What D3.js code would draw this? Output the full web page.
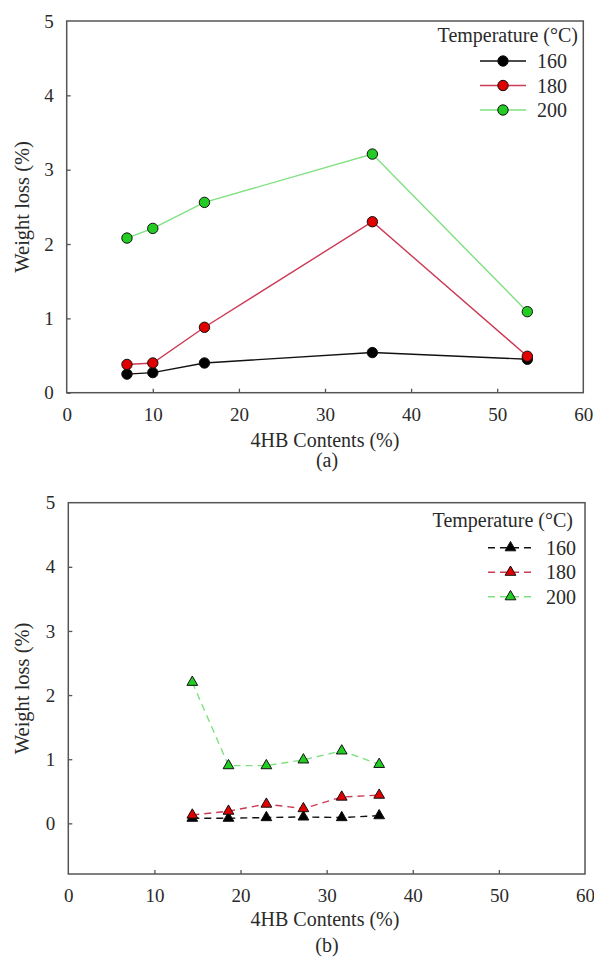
<!DOCTYPE html>
<html><head><meta charset="utf-8">
<script src="https://cdn.jsdelivr.net/npm/d3@7"></script>
<style>
html,body{margin:0;padding:0;background:#fff;}
</style></head>
<body><svg id="c" width="594" height="967"></svg>
<script>
// Panel (a)
const tempsA = ["160", "180", "200"];
const xA = [7, 10, 16, 35.5, 53.5];
const a160 = [0.25, 0.27, 0.40, 0.54, 0.45];
const a180 = [0.38, 0.40, 0.88, 2.30, 0.49];
const a200 = [2.08, 2.21, 2.56, 3.21, 1.09];
// Panel (b)
const xB = [14.4, 18.6, 23.0, 27.3, 31.75, 36.1];
const b160 = [0.08, 0.08, 0.09, 0.10, 0.09, 0.12];
const b180 = [0.13, 0.19, 0.30, 0.23, 0.41, 0.44];
const b200 = [2.20, 0.90, 0.90, 0.99, 1.13, 0.92];
const xTicks = [0, 10, 20, 30, 40, 50, 60];
const yTicks = [0, 1, 2, 3, 4, 5];

const lineCol = ["#111111", "#cc3a55", "#7fe07f"];
const fillCol = ["#000000", "#e00000", "#22cc22"];
const FONT = "'Liberation Serif', 'Times New Roman', Times, 'DejaVu Serif', serif";

const svg = d3.select("#c");

function panel(cfg) {
  const g = svg.append("g");
  const x = d3.scaleLinear().domain([0, 60]).range([cfg.left, cfg.right]);
  const y = d3.scaleLinear().domain(cfg.yDom).range([cfg.bottom, cfg.top]);

  g.append("rect").attr("x", cfg.left).attr("y", cfg.top)
    .attr("width", cfg.right - cfg.left).attr("height", cfg.bottom - cfg.top)
    .attr("fill", "none").attr("stroke", "#555").attr("stroke-width", 1.5);

  const xa = g.append("g").attr("transform", `translate(0,${cfg.bottom})`)
    .call(d3.axisBottom(x).tickValues(xTicks).tickFormat(d3.format("d")).tickSizeInner(-4).tickSizeOuter(0).tickPadding(15));
  const ya = g.append("g").attr("transform", `translate(${cfg.left},0)`)
    .call(d3.axisLeft(y).tickValues(yTicks).tickFormat(d3.format("d")).tickSizeInner(-4).tickSizeOuter(0).tickPadding(13));
  [xa, ya].forEach(a => {
    a.attr("font-family", null).attr("font-size", null);
    a.select(".domain").remove();
    a.selectAll(".tick line").attr("stroke", "#555").attr("stroke-width", 1.3);
    a.selectAll(".tick text").style("font-size", "19px");
  });
  xa.selectAll(".tick line").filter(d => d === 0 || d === 60).remove();
  ya.selectAll(".tick line").filter(d => d === 5).remove();

  g.append("text").attr("x", 325).attr("y", cfg.bottom + cfg.titleOff)
    .attr("text-anchor", "middle").style("font-size", "20px").text("4HB Contents (%)");
  g.append("text").attr("transform", `translate(29,${(cfg.top + cfg.bottom) / 2}) rotate(-90)`)
    .attr("text-anchor", "middle").style("font-size", "20.5px").text("Weight loss (%)");
  g.append("text").attr("x", 327).attr("y", cfg.capY)
    .attr("text-anchor", "middle").style("font-size", "20px").text(cfg.cap);

  const line = d3.line().x(d => x(d[0])).y(d => y(d[1]));
  const sym = cfg.tri ? d3.symbol().type(d3.symbolTriangle).size(50) : d3.symbol().type(d3.symbolCircle).size(85);

  cfg.series.forEach((s, i) => {
    const pts = cfg.xs.map((v, j) => [v, s[j]]);
    g.append("path").datum(pts).attr("d", line).attr("fill", "none")
      .attr("stroke", lineCol[i]).attr("stroke-width", 1.4)
      .attr("stroke-dasharray", cfg.tri ? "7,5" : null);
    g.selectAll(null).data(pts).enter().append("path")
      .attr("d", sym).attr("transform", d => `translate(${x(d[0])},${y(d[1])})`)
      .attr("fill", fillCol[i]).attr("stroke", "#111").attr("stroke-width", 1);
  });

  g.append("text").attr("x", cfg.legX).attr("y", cfg.legY)
    .attr("text-anchor", "end").style("font-size", "20px").text("Temperature (°C)");
  tempsA.forEach((t, i) => {
    const yy = cfg.legY + cfg.legOff + i * cfg.legStep;
    g.append("line").attr("x1", cfg.legL1).attr("x2", cfg.legL2).attr("y1", yy).attr("y2", yy)
      .attr("stroke", lineCol[i]).attr("stroke-width", 1.4)
      .attr("stroke-dasharray", cfg.tri ? "7,5" : null);
    g.append("path").attr("d", sym).attr("transform", `translate(${(cfg.legL1 + cfg.legL2) / 2},${yy})`)
      .attr("fill", fillCol[i]).attr("stroke", "#111").attr("stroke-width", 1);
    g.append("text").attr("x", cfg.legL2 + cfg.legGap).attr("y", yy).attr("dy", "0.35em")
      .style("font-size", "20px").text(t);
  });
}

panel({left: 66.7, right: 583.3, top: 21, bottom: 392.7, yDom: [0, 5],
  xs: xA, series: [a160, a180, a200], tri: false, cap: "(a)", capY: 467, titleOff: 54,
  legX: 578, legY: 42, legOff: 19, legStep: 24.5, legL1: 480, legL2: 526, legGap: 11});
panel({left: 68.3, right: 585, top: 502.7, bottom: 874, yDom: [-0.79, 5],
  xs: xB, series: [b160, b180, b200], tri: true, cap: "(b)", capY: 952, titleOff: 52,
  legX: 573, legY: 527, legOff: 20.7, legStep: 24.5, legL1: 488, legL2: 533, legGap: 13});

svg.selectAll("text").style("font-family", FONT).style("fill", "#2a2a2a");
</script></body></html>
